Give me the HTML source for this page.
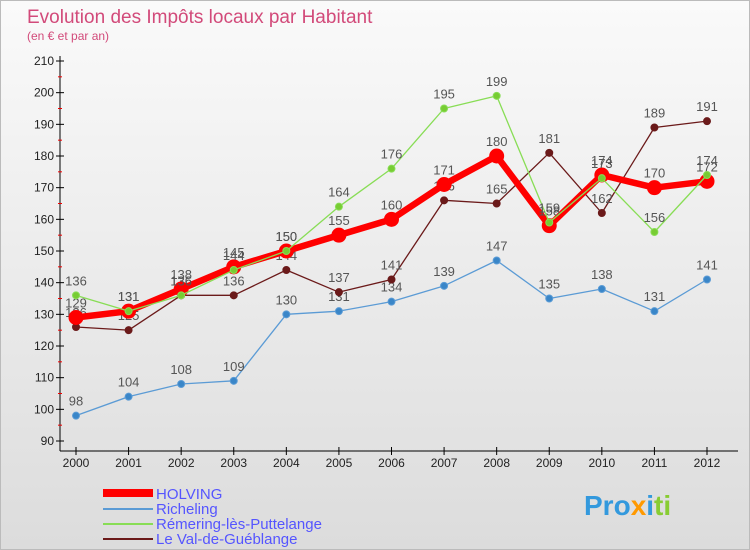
<!DOCTYPE html>
<html><head><meta charset="utf-8"><style>
body{margin:0;}
#wrap{width:750px;height:550px;position:relative;overflow:hidden;font-family:"Liberation Sans",sans-serif;background:linear-gradient(#fafafa,#dcdcdc);border:1px solid #bbb;box-sizing:border-box;}
</style></head><body>
<div id="wrap">
<svg id="chart" width="750" height="550" style="position:absolute;left:0;top:0">
<text x="26" y="22" font-size="19" fill="#d24a7a">Evolution des Impôts locaux par Habitant</text>
<text x="26" y="39" font-size="12" fill="#d24a7a">(en € et par an)</text>
<g id="axes"></g><g id="series"></g>
<g>
<rect x="102" y="488" width="50" height="8" fill="#ff0000"/>
<text x="155" y="498" font-size="15" fill="#5555ff">HOLVING</text>
<line x1="102" y1="508" x2="152" y2="508" stroke="#5b9bd5" stroke-width="2"/>
<text x="155" y="513" font-size="15" fill="#5555ff">Richeling</text>
<line x1="102" y1="523" x2="152" y2="523" stroke="#88dd55" stroke-width="2"/>
<text x="155" y="528" font-size="15" fill="#5555ff">Rémering-lès-Puttelange</text>
<line x1="102" y1="538" x2="152" y2="538" stroke="#6b1a1a" stroke-width="2"/>
<text x="155" y="543" font-size="15" fill="#5555ff">Le Val-de-Guéblange</text>
</g>
<text x="583" y="514" font-size="28" font-weight="bold" fill="#3399dd">Pro<tspan fill="#ff9900">x</tspan><tspan fill="#3399dd">i</tspan><tspan fill="#88cc33">ti</tspan></text>
</svg>
<script>
const years=[2000,2001,2002,2003,2004,2005,2006,2007,2008,2009,2010,2011,2012];
const holving=[129,131,138,145,150,155,160,171,180,158,174,170,172];
const richeling=[98,104,108,109,130,131,134,139,147,135,138,131,141];
const remering=[136,131,136,144,150,164,176,195,199,159,173,156,174];
const valdg=[126,125,136,136,144,137,141,166,165,181,162,189,191];
const yTicks=[90,100,110,120,130,140,150,160,170,180,190,200,210];
const NS="http://www.w3.org/2000/svg";
const X=i=>75+i*(706-75)/12;
const Y=v=>440-(v-90)*380/120;
function mk(t,a,p){const e=document.createElementNS(NS,t);for(const k in a)e.setAttribute(k,a[k]);p.appendChild(e);return e;}
const ax=document.getElementById('axes');
let l=mk('line',{x1:59,y1:55,x2:59,y2:450,stroke:'#000'},ax);


l=mk('line',{x1:59,y1:450,x2:737,y2:450,stroke:'#000'},ax);


yTicks.forEach(v=>{
 mk('line',{x1:55,y1:Y(v),x2:63,y2:Y(v),stroke:'#000'},ax);
 if(v<210) mk('line',{x1:57,y1:Y(v+5),x2:61,y2:Y(v+5),stroke:'#e00'},ax);
 const t=mk('text',{x:53,y:Y(v)+4,'text-anchor':'end','font-size':12,fill:'#222'},ax);t.textContent=v;
 
 
});
years.forEach((y,i)=>{
 mk('line',{x1:X(i),y1:446,x2:X(i),y2:454,stroke:'#000'},ax);
 const t=mk('text',{x:X(i),y:466,'text-anchor':'middle','font-size':12,fill:'#222'},ax);t.textContent=y;
 
 
});
const sg=document.getElementById('series');
function series(vals,color,w,r,name,fillc){
 const g=mk('g',{},sg);
 
 
 mk('polyline',{points:vals.map((v,i)=>X(i)+','+Y(v)).join(' '),fill:'none',stroke:color,'stroke-width':w,'stroke-linejoin':'round'},g);
 vals.forEach((v,i)=>{
  const c=mk('circle',{cx:X(i),cy:Y(v),r:r,fill:fillc,stroke:color,'stroke-width':1},g);
  
  
  const t=mk('text',{x:X(i),y:Y(v)-10,'text-anchor':'middle','font-size':13,fill:'#555'},g);t.textContent=v;
  
  
 });
}
series(richeling,'#5b9bd5',1.3,3.5,'series-richeling','#3a86c8');
series(valdg,'#6b1a1a',1.3,3.5,'series-val-de-gueblange','#6b1a1a');
series(holving,'#ff0000',6.5,7,'series-holving','#ff0000');
series(remering,'#88dd55',1.3,3.5,'series-remering','#77cc33');
</script>
</div>
</body></html>
